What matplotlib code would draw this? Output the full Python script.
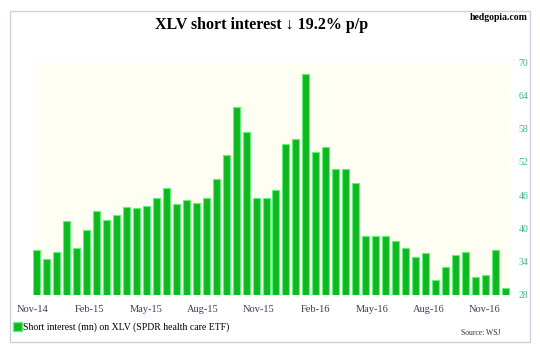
import numpy as np
import matplotlib
matplotlib.use("Agg")
import matplotlib.pyplot as plt
from matplotlib.patches import Rectangle, Patch

# short interest on XLV, mn shares, twice-monthly
short_interest = [36.1, 34.5, 35.7, 41.4, 36.5, 39.8, 43.2, 41.6,
                  42.5, 43.9, 43.6, 44.0, 45.4, 47.2, 44.4, 45.1,
                  44.6, 45.4, 49.0, 53.2, 61.8, 57.3, 45.4, 45.4,
                  47.0, 55.2, 56.2, 67.8, 53.7, 54.7, 50.8, 50.8,
                  48.1, 38.6, 38.6, 38.6, 37.8, 36.4, 34.8, 35.6,
                  30.7, 33.1, 35.2, 35.8, 31.3, 31.6, 36.1, 29.3]
month_labels = ["Nov-14", "Feb-15", "May-15", "Aug-15", "Nov-15",
                "Feb-16", "May-16", "Aug-16", "Nov-16"]
y_ticks = [28, 34, 40, 46, 52, 58, 64, 70]

serif = ["Liberation Serif", "DejaVu Serif"]
bar_face = "#10b820"
bar_edge = "#5ef27c"

fig = plt.figure(figsize=(5.4, 3.52), dpi=100)
fig.patch.set_facecolor("white")

# outer frame
fig.patches.append(Rectangle((10 / 540, 1 - 342 / 352), 520 / 540, 331 / 352,
                             transform=fig.transFigure, fill=False,
                             edgecolor="#c9d2e4", linewidth=1.0))

ax = fig.add_axes([33 / 540, 1 - 295 / 352, 477 / 540, 233 / 352])
ax.set_facecolor("#fffef3")

x = np.arange(len(short_interest))
ax.bar(x, np.array(short_interest) - 28, bottom=28, width=0.7,
       color=bar_face, edgecolor=bar_edge, linewidth=0.8)

ax.set_xlim(-0.3, 47.5)
ax.set_ylim(28, 70)
for s in ax.spines.values():
    s.set_visible(False)

ax.set_xticks(np.linspace(-0.4, 45, len(month_labels)))
ax.set_xticklabels(month_labels, family=serif, fontsize=7.5, color="#3b3b5c")
ax.tick_params(axis="x", length=0, pad=7)

ax.yaxis.tick_right()
ax.set_yticks(y_ticks)
ax.set_yticklabels([str(v) for v in y_ticks], family=serif, fontsize=7,
                   color="#3cb884")
ax.tick_params(axis="y", length=0, pad=6)

fig.text(0.485, 1 - 25 / 352, "XLV short interest \u2193 19.2% p/p",
         family=serif, fontsize=11.5, fontweight="bold",
         ha="center", va="center")
fig.text(528 / 540, 1 - 17 / 352, "hedgopia.com", family=serif,
         fontsize=7, fontweight="bold", ha="right", va="center")
fig.text(500 / 540, 1 - 333 / 352, "Source: WSJ", family=serif,
         fontsize=5.5, ha="right", va="center", color="#333333")

fig.legend(handles=[Patch(facecolor=bar_face, edgecolor=bar_edge,
                          label="Short interest (mn) on XLV (SPDR health care ETF)")],
           loc="center left", bbox_to_anchor=(13 / 540, 1 - 327 / 352),
           frameon=False, handlelength=0.9, handleheight=1.0,
           handletextpad=0.1, borderpad=0, borderaxespad=0,
           prop={"family": serif, "size": 7})

fig.savefig("out.png", dpi=100)
